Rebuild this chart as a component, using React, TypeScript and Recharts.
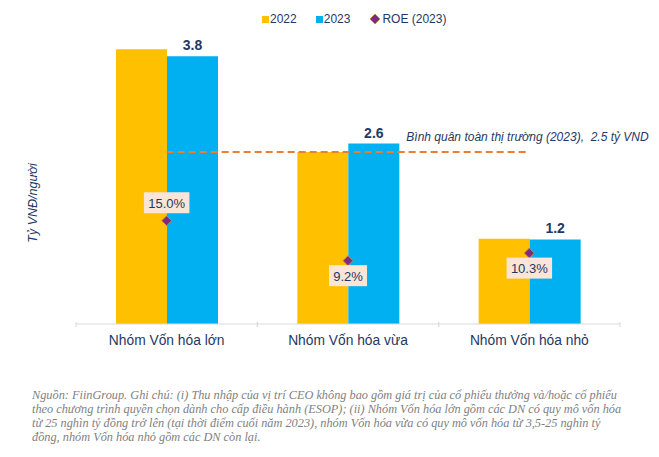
import { ComposedChart, Bar, Line, XAxis, YAxis, ReferenceLine, LabelList } from 'recharts';

const categories = ['Nhóm Vốn hóa lớn', 'Nhóm Vốn hóa vừa', 'Nhóm Vốn hóa nhỏ'];
const income2022 = [3.9, 2.44, 1.21];
const income2023 = [3.8, 2.56, 1.2];
const roe2023 = [15.0, 9.2, 10.3];
const roeLabelSide = ['top', 'bottom', 'bottom'];
const marketAvg = 2.44;
const marketAvgText = 'Bình quân toàn thị trường (2023),\u00A0 2.5 tỷ VND';
const seriesNames = ['2022', '2023', 'ROE (2023)'];
const footnoteLines = [
  'Nguồn: FiinGroup. Ghi chú: (i) Thu nhập của vị trí CEO không bao gồm giá trị của cổ phiếu thưởng và/hoặc cổ phiếu',
  'theo chương trình quyền chọn dành cho cấp điều hành (ESOP); (ii) Nhóm Vốn hóa lớn gồm các DN có quy mô vốn hóa',
  'từ 25 nghìn tỷ đồng trở lên (tại thời điểm cuối năm 2023), nhóm Vốn hóa vừa có quy mô vốn hóa từ 3,5-25 nghìn tỷ',
  'đồng, nhóm Vốn hóa nhỏ gồm các DN còn lại.',
];

const data = categories.map((name, i) => ({
  name,
  y2022: income2022[i],
  y2023: income2023[i],
  roe: roe2023[i],
}));

const YELLOW = '#FFC000';
const BLUE = '#00B0F0';
const NAVY = '#1F3864';
const FONT = '"Liberation Sans", Arial, sans-serif';

// plot area: x 76..620
const PLOT_W = 544;
const CAT_W = PLOT_W / categories.length;

function CategoryTick(props: any) {
  const { x, y, payload } = props;
  return (
    <g>
      <line x1={x - CAT_W / 2} x2={x - CAT_W / 2} y1={y - 10} y2={y - 5} stroke="#D9D9D9" />
      <line x1={x + CAT_W / 2} x2={x + CAT_W / 2} y1={y - 10} y2={y - 5} stroke="#D9D9D9" />
      <text x={x} y={y + 13} textAnchor="middle" fontSize={13.8} fill={NAVY} fontFamily={FONT}>
        {payload.value}
      </text>
    </g>
  );
}

function Diamond(props: any) {
  const { cx, cy } = props;
  if (cx == null || cy == null) return null;
  const r = 5;
  return (
    <polygon
      points={`${cx},${cy - r} ${cx + r},${cy} ${cx},${cy + r} ${cx - r},${cy}`}
      fill="#7B2C7E"
      stroke="#D9813F"
      strokeWidth={1}
    />
  );
}

function RoeLabel(props: any) {
  const { x, y, value, index } = props;
  const text = `${Number(value).toFixed(1)}%`;
  const w = text.length * 7.5 + 8;
  const h = 21;
  const cy = roeLabelSide[index] === 'top' ? y - 18 : y + 15;
  return (
    <g>
      <rect x={x - w / 2} y={cy - h / 2} width={w} height={h} fill="#FBE5D6" />
      <text x={x} y={cy + 5} textAnchor="middle" fontSize={13} fill={NAVY} fontFamily={FONT}>
        {text}
      </text>
    </g>
  );
}

function AvgLabel(props: any) {
  const { viewBox } = props;
  if (!viewBox) return null;
  return (
    <text
      x={viewBox.x + viewBox.width - 123}
      y={viewBox.y - 11}
      fontSize={12}
      fontStyle="italic"
      fill={NAVY}
      fontFamily={FONT}
    >
      {marketAvgText}
    </text>
  );
}

function LegendBox() {
  const item = { display: 'flex', alignItems: 'center', marginRight: 19 } as const;
  const swatch = (c: string) => ({ width: 7, height: 7, background: c, marginRight: 1 });
  return (
    <div
      style={{
        position: 'absolute',
        left: 262,
        top: 11,
        display: 'flex',
        fontFamily: FONT,
        fontSize: 12,
        color: NAVY,
        lineHeight: '16px',
      }}
    >
      <div style={item}>
        <div style={swatch(YELLOW)} />
        {seriesNames[0]}
      </div>
      <div style={item}>
        <div style={swatch(BLUE)} />
        {seriesNames[1]}
      </div>
      <div style={item}>
        <svg width={12} height={12} style={{ marginRight: 1 }}>
          <Diamond cx={6} cy={6} />
        </svg>
        {seriesNames[2]}
      </div>
    </div>
  );
}

export default function App() {
  return (
    <div style={{ position: 'absolute', left: 0, top: 0, width: 659, height: 457, background: '#fff' }}>
      <ComposedChart
        width={659}
        height={370}
        data={data}
        margin={{ top: 28, right: 39, bottom: 16, left: 76 }}
        barGap={0}
      >
        <XAxis
          dataKey="name"
          height={30}
          tickLine={false}
          axisLine={{ stroke: '#D9D9D9' }}
          tick={<CategoryTick />}
          interval={0}
        />
        <YAxis yAxisId="left" hide domain={[0, 4.2]} />
        <YAxis yAxisId="roe" orientation="right" hide domain={[0, 43]} />
        <Bar yAxisId="left" dataKey="y2022" fill={YELLOW} barSize={51} isAnimationActive={false} />
        <Bar yAxisId="left" dataKey="y2023" fill={BLUE} barSize={51} isAnimationActive={false}>
          <LabelList
            dataKey="y2023"
            position="top"
            offset={6}
            formatter={(v: any) => Number(v).toFixed(1)}
            style={{ fontSize: 14, fontWeight: 'bold', fill: NAVY, fontFamily: FONT }}
          />
        </Bar>
        <ReferenceLine
          yAxisId="left"
          segment={[
            { x: categories[0], y: marketAvg },
            { x: categories[2], y: marketAvg },
          ]}
          stroke="#ED7D31"
          strokeWidth={2}
          strokeDasharray="7 4"
          ifOverflow="visible"
          label={<AvgLabel />}
        />
        <Line
          yAxisId="roe"
          dataKey="roe"
          stroke="none"
          dot={<Diamond />}
          activeDot={false}
          isAnimationActive={false}
        >
          <LabelList dataKey="roe" content={<RoeLabel />} />
        </Line>
      </ComposedChart>
      <LegendBox />
      <div
        style={{
          position: 'absolute',
          left: 33,
          top: 203,
          transform: 'translate(-50%, -50%) rotate(-90deg)',
          fontFamily: FONT,
          fontSize: 12.5,
          fontStyle: 'italic',
          color: NAVY,
          whiteSpace: 'nowrap',
        }}
      >
        Tỷ VNĐ/người
      </div>
      <div
        style={{
          position: 'absolute',
          left: 32,
          top: 388,
          fontFamily: '"Liberation Serif", serif',
          fontStyle: 'italic',
          fontSize: 12.3,
          lineHeight: '14px',
          color: '#7F7F7F',
          whiteSpace: 'nowrap',
        }}
      >
        {footnoteLines.map((l, i) => (
          <div key={i}>{l}</div>
        ))}
      </div>
    </div>
  );
}
